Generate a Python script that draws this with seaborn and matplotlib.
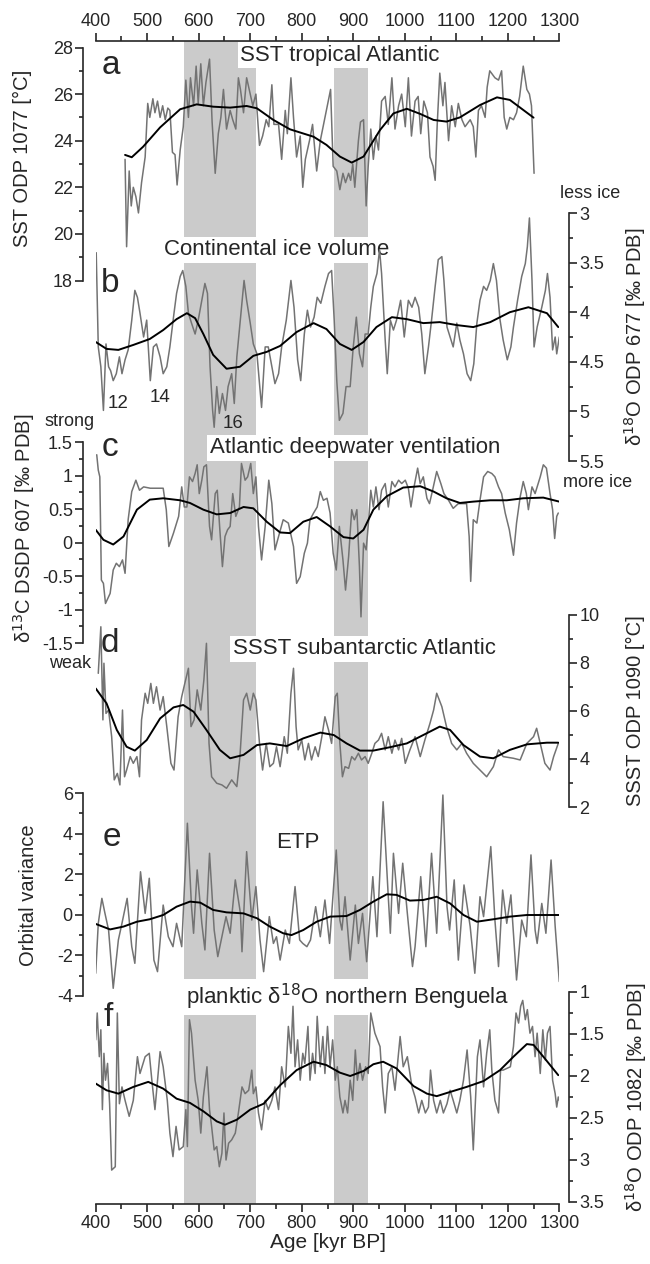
import matplotlib
matplotlib.use("Agg")
import matplotlib.pyplot as plt
from matplotlib.ticker import MultipleLocator, FuncFormatter
import seaborn as sns

# ============================================
# DATA
# ============================================

# glacial bands [kyr BP]
band_start = [572, 862]
band_end = [712, 929]

# a) SST ODP 1077
sst_age = [457, 460, 465, 469, 473, 478, 483, 489, 496, 501, 505, 511, 515, 520, 525, 530, 535, 540, 544, 549,
           554, 558, 564, 570, 575, 580, 584, 590, 595, 599, 604, 609, 614, 621, 626, 632, 638, 643, 648, 654,
           661, 666, 672, 677, 681, 687, 693, 698, 705, 711, 718, 724, 731, 736, 742, 746, 755, 761, 768, 772,
           779, 784, 790, 797, 802, 807, 815, 821, 829, 836, 845, 856, 861, 868, 874, 880, 885, 891, 895, 899,
           903, 910, 914, 920, 925, 929, 934, 939, 944, 949, 955, 962, 968, 975, 981, 988, 994, 1001, 1007, 1013,
           1020, 1026, 1031, 1037, 1044, 1049, 1055, 1059, 1063, 1068, 1074, 1078, 1085, 1091, 1098, 1104, 1111,
           1117, 1127, 1133, 1138, 1143, 1149, 1156, 1160, 1165, 1175, 1182, 1188, 1193, 1198, 1204, 1211, 1217,
           1223, 1230, 1237, 1242, 1246, 1251]
sst_raw = [23.2, 19.45, 22.7, 21.2, 22.0, 21.6, 20.9, 22.2, 23.3, 25.6, 25.0, 25.8, 25.2, 25.7, 25.0, 25.5, 24.9, 25.4,
           25.3, 23.5, 23.4, 22.1, 23.6, 24.6, 26.6, 25.0, 26.7, 25.5, 27.2, 25.6, 27.3, 25.5, 26.5, 27.5, 24.8, 22.6,
           24.3, 25.0, 26.2, 24.5, 25.3, 24.9, 24.5, 26.7, 26.2, 25.2, 26.7, 26.2, 25.5, 26.0, 23.8, 24.2, 24.9, 24.6,
           26.4, 24.7, 24.7, 23.2, 25.3, 24.3, 26.7, 25.0, 23.3, 24.2, 22.0, 23.2, 24.0, 24.7, 22.7, 24.0, 25.0, 26.2,
           22.9, 22.7, 21.9, 22.6, 22.2, 22.6, 22.3, 23.0, 22.0, 24.0, 24.8, 24.9, 21.2, 22.9, 24.5, 23.2, 24.2, 23.6,
           25.7, 25.9, 24.7, 26.7, 24.5, 25.5, 26.0, 24.6, 26.7, 24.2, 25.7, 25.9, 24.3, 25.7, 25.2, 23.3, 22.9, 22.3,
           24.7, 26.9, 25.5, 26.5, 24.0, 25.5, 24.6, 25.6, 24.9, 24.6, 24.9, 24.6, 23.3, 25.3, 25.5, 25.0, 26.3, 27.0,
           26.7, 26.6, 27.0, 25.0, 24.5, 25.0, 24.9, 25.2, 25.9, 27.2, 26.2, 26.0, 25.5, 22.6]
sst_fit_age = [457, 470, 492, 525, 564, 596, 628, 661, 693, 713, 745, 777, 823, 848, 874, 897, 920, 952, 978, 1004,
               1030, 1056, 1081, 1107, 1146, 1179, 1204, 1230, 1250]
sst_fit = [23.39, 23.29, 23.74, 24.57, 25.35, 25.56, 25.46, 25.42, 25.49, 25.39, 24.89, 24.49, 24.17, 23.82, 23.32,
           23.06, 23.32, 24.46, 25.17, 25.37, 25.15, 24.89, 24.82, 25.0, 25.53, 25.86, 25.75, 25.32, 24.99]

# b) benthic d18O ODP 677 (ice volume)
ice_age = [401, 405, 410, 415, 420, 425, 429, 434, 440, 446, 451, 457, 463, 470, 476, 481, 486, 493, 499, 506,
           512, 518, 525, 531, 538, 544, 552, 557, 564, 569, 575, 580, 586, 593, 599, 606, 612, 617, 622, 627,
           630, 635, 640, 646, 652, 657, 664, 669, 674, 682, 688, 693, 700, 706, 713, 722, 729, 735, 742, 748,
           755, 761, 770, 779, 785, 792, 798, 805, 811, 817, 824, 830, 837, 845, 852, 858, 863, 868, 873, 880,
           886, 894, 900, 906, 912, 918, 923, 929, 934, 939, 946, 951, 955, 962, 966, 972, 978, 984, 992, 999,
           1007, 1014, 1020, 1027, 1033, 1039, 1046, 1052, 1059, 1065, 1072, 1076, 1082, 1088, 1094, 1101, 1107,
           1114, 1121, 1128, 1134, 1140, 1146, 1153, 1159, 1166, 1172, 1178, 1185, 1191, 1199, 1206, 1211, 1219,
           1227, 1234, 1238, 1242, 1247, 1251, 1257, 1266, 1273, 1277, 1282, 1287, 1292, 1295, 1300]
ice_raw = [3.40, 4.35, 4.55, 4.99, 4.32, 4.55, 4.59, 4.69, 4.62, 4.45, 4.62, 4.48, 4.38, 4.08, 3.78, 3.85, 4.01, 4.25,
           4.08, 4.69, 4.35, 4.32, 4.45, 4.62, 4.55, 4.35, 4.01, 3.81, 3.64, 3.58, 3.74, 4.01, 4.11, 4.22, 4.08, 3.88,
           3.71, 3.81, 4.55, 4.99, 5.16, 4.75, 5.02, 4.82, 4.99, 4.75, 4.62, 4.92, 4.45, 4.01, 3.68, 3.88, 4.11, 4.32,
           4.42, 4.96, 4.35, 4.35, 4.55, 4.72, 4.62, 4.35, 4.08, 3.68, 3.95, 4.48, 4.69, 4.22, 3.98, 4.15, 4.05, 3.85,
           3.91, 3.74, 3.61, 3.58, 4.08, 4.69, 5.09, 5.02, 4.75, 4.75, 4.35, 4.05, 4.42, 4.55, 4.22, 4.22, 3.95, 3.74,
           3.61, 3.37, 3.61, 4.28, 4.62, 4.08, 4.18, 4.08, 3.88, 4.25, 3.88, 3.95, 3.85, 3.95, 4.22, 4.62, 4.35, 4.08,
           3.74, 3.47, 3.44, 3.68, 4.15, 4.25, 4.35, 4.11, 4.28, 4.42, 4.62, 4.69, 4.52, 4.11, 3.88, 3.74, 3.78, 3.68,
           3.51, 3.68, 4.08, 4.28, 4.48, 4.35, 4.15, 3.88, 3.64, 3.51, 3.34, 3.05, 3.68, 4.35, 4.15, 3.95, 3.78, 3.61,
           3.85, 4.38, 4.25, 4.42, 4.25]
ice_fit_age = [400, 421, 444, 473, 505, 531, 557, 577, 593, 609, 628, 654, 680, 706, 732, 758, 790, 823, 848, 874,
               897, 920, 945, 975, 1004, 1036, 1068, 1101, 1133, 1166, 1204, 1240, 1276, 1298]
ice_fit = [4.30, 4.37, 4.38, 4.33, 4.27, 4.18, 4.07, 4.01, 4.06, 4.22, 4.43, 4.57, 4.55, 4.44, 4.40, 4.34, 4.20, 4.11,
           4.17, 4.32, 4.38, 4.30, 4.15, 4.05, 4.07, 4.11, 4.10, 4.13, 4.15, 4.10, 4.00, 3.95, 4.01, 4.15]
mis_labels = ["12", "14", "16"]

# c) d13C DSDP 607
vent_age = [402, 405, 408, 411, 415, 419, 428, 434, 440, 446, 452, 457, 463, 470, 478, 485, 493, 506, 522, 531,
            537, 542, 551, 561, 567, 572, 577, 582, 588, 593, 597, 601, 606, 610, 615, 621, 625, 632, 636, 641,
            646, 651, 656, 661, 666, 672, 679, 683, 690, 695, 701, 706, 711, 716, 722, 729, 736, 742, 748, 755,
            764, 774, 784, 790, 797, 805, 811, 816, 823, 830, 836, 842, 849, 855, 861, 867, 873, 880, 885, 891,
            897, 902, 907, 912, 915, 920, 925, 930, 934, 939, 944, 950, 955, 962, 968, 975, 981, 988, 994, 1001,
            1007, 1012, 1018, 1025, 1030, 1036, 1043, 1048, 1054, 1062, 1070, 1076, 1085, 1094, 1104, 1114, 1120,
            1125, 1128, 1133, 1140, 1146, 1153, 1161, 1169, 1175, 1182, 1188, 1195, 1203, 1211, 1217, 1224, 1230,
            1236, 1240, 1247, 1253, 1257, 1263, 1269, 1275, 1282, 1287, 1291, 1295, 1298]
vent_raw = [1.31, 1.08, 0.98, -0.56, -0.61, -0.91, -0.76, -0.41, -0.31, -0.36, -0.26, -0.46, 0.34, 0.76, 0.93, 0.78,
            0.83, 0.81, 0.81, 0.81, 0.49, -0.06, 0.14, 0.39, 0.83, 0.53, 0.53, 0.98, 0.91, 1.03, 1.16, 0.73, 0.93,
            1.13, 1.16, 0.24, 0.04, 0.73, 0.78, 0.19, -0.36, 0.09, 0.19, 0.24, 0.73, 0.39, 0.53, 1.18, 0.93, 0.98,
            1.18, 0.73, 0.98, 0.24, -0.26, 0.24, 0.93, 0.58, -0.11, 0.09, 0.34, 0.29, -0.06, -0.61, -0.51, -0.16,
            -0.01, 0.34, 0.44, 0.53, 0.76, 0.63, 0.66, 0.44, -0.16, -0.41, 0.24, -0.26, -0.71, -0.21, 0.49, 0.34,
            0.49, -0.36, -1.11, -0.01, -0.11, 0.34, 0.78, 0.53, 0.83, 0.49, 0.78, 0.88, 0.53, 0.91, 0.83, 0.93, 0.88,
            0.93, 0.81, 0.53, 0.83, 1.11, 0.88, 0.98, 0.66, 0.58, 0.78, 1.06, 0.88, 0.73, 0.63, 0.51, 0.58, 0.58,
            0.58, 0.09, -0.58, 0.34, 0.29, 0.63, 0.98, 1.06, 1.03, 0.98, 0.83, 0.73, 0.44, 0.19, -0.19, 0.29, 0.68,
            0.91, 0.73, 0.49, 0.83, 0.73, 0.83, 0.98, 1.16, 1.11, 0.73, 0.49, 0.06, 0.39, 0.44]
vent_fit_age = [400, 415, 434, 454, 480, 505, 531, 564, 583, 609, 635, 661, 687, 706, 732, 758, 777, 803, 829, 855,
                881, 900, 920, 939, 965, 997, 1030, 1056, 1081, 1107, 1133, 1166, 1198, 1230, 1269, 1300]
vent_fit = [0.19, 0.04, -0.03, 0.09, 0.49, 0.64, 0.66, 0.63, 0.59, 0.49, 0.42, 0.44, 0.53, 0.51, 0.31, 0.15, 0.14,
            0.31, 0.38, 0.24, 0.08, 0.06, 0.19, 0.49, 0.69, 0.82, 0.84, 0.76, 0.66, 0.59, 0.61, 0.63, 0.63, 0.66,
            0.67, 0.61]

# d) SSST ODP 1090
ssst_age = [405, 410, 414, 416, 420, 425, 431, 436, 442, 447, 452, 456, 460, 467, 473, 480, 485, 489, 496, 501,
            507, 512, 518, 525, 531, 538, 546, 552, 560, 567, 573, 580, 585, 591, 597, 604, 610, 615, 620, 625,
            635, 645, 654, 664, 674, 680, 687, 693, 700, 706, 711, 718, 724, 731, 738, 745, 751, 758, 766, 772,
            779, 784, 789, 793, 800, 806, 813, 819, 826, 832, 839, 845, 852, 858, 865, 869, 874, 879, 884, 891,
            897, 903, 910, 916, 923, 929, 936, 942, 949, 955, 962, 968, 975, 981, 988, 994, 1001, 1010, 1020, 1030,
            1039, 1049, 1056, 1062, 1072, 1081, 1091, 1101, 1111, 1120, 1133, 1146, 1159, 1172, 1182, 1191, 1211,
            1224, 1237, 1250, 1256, 1263, 1272, 1282, 1289, 1298]
ssst_raw = [7.57, 9.51, 5.63, 7.99, 5.90, 6.04, 4.93, 3.13, 3.40, 2.92, 6.04, 3.26, 3.54, 4.10, 3.82, 4.10, 3.26,
            5.63, 6.74, 6.32, 7.15, 6.32, 7.01, 6.04, 6.60, 5.35, 3.82, 3.54, 5.76, 6.60, 7.15, 7.78, 5.35, 5.63,
            6.88, 6.04, 7.29, 8.82, 4.65, 3.26, 2.99, 2.92, 2.78, 3.13, 2.85, 4.10, 6.46, 6.74, 6.04, 6.74, 6.46,
            4.65, 3.54, 4.65, 3.68, 3.82, 4.51, 3.68, 4.93, 4.24, 6.74, 7.78, 5.35, 4.38, 4.79, 3.96, 4.65, 3.96,
            4.51, 4.10, 4.93, 5.76, 5.21, 4.65, 6.60, 6.74, 4.65, 3.26, 3.68, 3.61, 4.10, 3.96, 4.24, 3.96, 4.10,
            3.82, 4.24, 4.65, 4.79, 5.07, 4.38, 4.93, 4.24, 4.79, 4.38, 4.86, 3.82, 4.38, 4.93, 4.10, 4.79, 5.49,
            6.04, 6.74, 6.18, 5.35, 4.65, 4.38, 4.65, 4.24, 3.82, 3.54, 3.26, 3.68, 4.38, 4.10, 4.03, 3.96, 4.65,
            4.93, 5.28, 4.65, 3.82, 3.54, 4.10, 4.65]
ssst_fit_age = [400, 421, 441, 460, 476, 499, 525, 551, 570, 590, 615, 641, 661, 687, 713, 738, 771, 803, 836, 862,
                887, 913, 939, 971, 1004, 1036, 1068, 1088, 1114, 1146, 1172, 1204, 1237, 1276, 1298]
ssst_fit = [6.94, 6.32, 5.21, 4.51, 4.35, 4.79, 5.69, 6.15, 6.25, 5.97, 5.21, 4.38, 4.03, 4.17, 4.58, 4.65, 4.54,
            4.86, 5.10, 5.00, 4.65, 4.35, 4.35, 4.49, 4.65, 5.00, 5.35, 5.21, 4.58, 4.10, 4.03, 4.38, 4.61, 4.68,
            4.68]

# e) ETP orbital variance
etp_age = [400, 405, 412, 418, 425, 434, 444, 451, 461, 470, 476, 487, 496, 504, 513, 520, 531, 541, 550, 557,
           567, 578, 586, 590, 597, 606, 612, 621, 630, 637, 645, 653, 661, 671, 681, 684, 693, 703, 711, 719,
           726, 737, 745, 751, 758, 768, 776, 787, 796, 802, 810, 817, 827, 836, 845, 854, 867, 874, 878, 884,
           894, 904, 910, 918, 926, 938, 946, 958, 968, 972, 978, 988, 996, 1005, 1015, 1020, 1031, 1041, 1052,
           1062, 1074, 1082, 1087, 1096, 1104, 1115, 1127, 1136, 1146, 1153, 1167, 1175, 1182, 1190, 1198, 1206,
           1217, 1227, 1236, 1245, 1253, 1257, 1266, 1274, 1284, 1292, 1300]
etp_raw = [-2.88, -0.42, 0.81, 0.07, -0.75, -3.62, -1.24, -0.42, 0.81, -1.57, -2.39, 2.12, 0.07, 1.80, -2.23, -2.80,
           0.48, -1.08, -1.57, -0.42, -1.57, 4.51, 0.40, -0.91, 2.21, -0.42, -1.73, 3.03, -0.75, -2.06, -1.08, -0.09,
           -0.91, 1.72, 0.07, -1.82, 3.11, -0.26, 1.39, -1.24, -2.80, -0.09, -1.41, -1.08, -2.23, -0.75, -1.41, 1.39,
           -1.24, -1.41, -1.57, -1.24, 0.40, -1.08, 0.73, -1.41, 3.19, -0.26, -0.75, 0.89, -2.23, 0.48, -1.41, 0.07,
           -2.31, 1.88, -1.08, 5.57, 0.89, -0.91, 3.03, 0.07, 2.54, 0.07, -2.55, -1.57, 1.88, -1.57, 3.03, -0.91,
           5.90, 0.40, -0.75, 1.72, -2.23, 1.47, -0.58, -2.88, 0.89, -0.09, 3.36, -0.26, -2.55, 1.22, -0.42, 0.98,
           -3.21, -0.26, -1.08, 2.95, -0.75, -1.41, 0.56, -0.91, 2.70, -0.58, -3.29]
etp_fit_age = [400, 428, 454, 480, 505, 531, 557, 583, 603, 628, 654, 687, 713, 738, 764, 780, 803, 829, 855, 887,
               913, 939, 965, 984, 1010, 1036, 1062, 1088, 1114, 1140, 1172, 1204, 1237, 1276, 1300]
etp_fit = [-0.45, -0.72, -0.58, -0.34, -0.22, -0.01, 0.40, 0.65, 0.60, 0.24, 0.12, 0.07, -0.17, -0.58, -0.91, -1.00,
           -0.75, -0.34, -0.09, -0.06, 0.24, 0.65, 1.01, 0.98, 0.70, 0.73, 0.89, 0.56, -0.01, -0.34, -0.22, -0.09,
           -0.01, -0.01, -0.01]

# f) planktic d18O ODP 1082
benq_age = [400, 403, 407, 410, 413, 416, 419, 423, 427, 431, 438, 442, 446, 451, 457, 465, 473, 481, 486, 496,
            504, 509, 515, 525, 531, 539, 544, 550, 556, 562, 570, 575, 578, 582, 586, 593, 599, 604, 609, 616,
            621, 625, 630, 635, 640, 645, 649, 653, 658, 664, 671, 677, 684, 690, 697, 703, 706, 711, 716, 722,
            729, 735, 742, 748, 755, 761, 768, 774, 779, 783, 787, 792, 797, 802, 806, 812, 816, 821, 826, 830,
            836, 841, 845, 850, 855, 860, 865, 869, 874, 880, 884, 889, 894, 899, 904, 908, 913, 918, 924, 929,
            934, 942, 952, 957, 962, 968, 975, 981, 991, 997, 1005, 1014, 1020, 1027, 1033, 1040, 1046, 1050, 1056,
            1062, 1069, 1075, 1082, 1088, 1094, 1101, 1107, 1114, 1121, 1128, 1133, 1141, 1146, 1153, 1159, 1165,
            1169, 1175, 1182, 1186, 1191, 1205, 1211, 1216, 1221, 1225, 1229, 1234, 1238, 1243, 1248, 1253, 1257,
            1263, 1268, 1273, 1277, 1282, 1287, 1292, 1295, 1298, 1300]
benq_raw = [1.57, 1.25, 1.77, 1.45, 2.40, 1.73, 2.05, 1.85, 2.33, 3.12, 3.08, 1.25, 2.33, 2.13, 2.29, 2.48, 2.29,
            1.77, 1.97, 1.77, 1.73, 2.05, 2.40, 1.71, 1.89, 2.29, 2.68, 2.96, 2.60, 2.88, 2.84, 2.40, 2.84, 1.33,
            1.49, 2.05, 2.29, 2.68, 2.25, 1.89, 2.40, 2.60, 2.88, 2.84, 3.08, 2.92, 2.44, 3.00, 2.80, 2.76, 2.68,
            2.44, 2.13, 2.21, 2.17, 1.93, 2.21, 2.13, 2.44, 2.64, 2.29, 2.40, 2.29, 2.13, 2.40, 1.89, 2.13, 1.41,
            1.73, 1.17, 1.89, 1.57, 2.05, 1.73, 1.85, 1.41, 2.05, 1.73, 1.97, 1.29, 1.89, 1.53, 1.97, 1.41, 1.89,
            1.57, 2.05, 1.89, 2.25, 2.44, 2.29, 2.44, 2.05, 2.29, 1.69, 2.05, 1.85, 2.05, 1.89, 1.97, 1.25, 1.49,
            1.65, 2.13, 2.44, 1.97, 1.89, 2.17, 1.53, 1.89, 1.77, 2.13, 2.25, 2.44, 2.29, 2.44, 2.37, 1.93, 2.29,
            2.44, 2.29, 2.44, 2.33, 2.17, 2.29, 2.44, 2.29, 2.05, 1.69, 2.25, 2.88, 1.77, 1.57, 2.13, 1.73, 1.45,
            1.93, 2.29, 2.44, 1.93, 1.93, 1.89, 1.65, 1.25, 1.37, 1.17, 1.10, 1.33, 1.21, 1.49, 1.41, 1.77, 1.49,
            1.97, 1.45, 1.81, 1.49, 1.41, 2.05, 2.21, 2.37, 2.25, 2.29]
benq_fit_age = [400, 421, 444, 473, 502, 531, 557, 583, 609, 635, 651, 674, 700, 726, 758, 790, 823, 848, 874, 894,
                920, 939, 958, 984, 1017, 1043, 1062, 1088, 1120, 1153, 1185, 1211, 1237, 1250, 1269, 1298]
benq_fit = [2.09, 2.17, 2.21, 2.13, 2.07, 2.15, 2.27, 2.32, 2.42, 2.54, 2.58, 2.52, 2.40, 2.33, 2.11, 1.93, 1.83,
            1.87, 1.96, 2.00, 1.94, 1.86, 1.83, 1.91, 2.12, 2.21, 2.24, 2.19, 2.13, 2.06, 1.93, 1.77, 1.62, 1.63,
            1.77, 1.99]

# ============================================
# FIGURE
# ============================================

sns.set_style("ticks")
plt.rcParams["font.family"] = ["Liberation Sans", "DejaVu Sans"]
plt.rcParams["axes.unicode_minus"] = False

W, H = 650, 1264
X0, X1 = 95.7, 559.3          # pixel span of 400..1300 kyr
RAW_C, FIT_C, BAND_C = "#737373", "black", "#cbcbcb"


def frame(x0, y0, x1, y1):
    return [x0 / W, 1 - y1 / H, (x1 - x0) / W, (y1 - y0) / H]


def fxy(x, y):
    return x / W, 1 - y / H


fig = plt.figure(figsize=(6.5, 12.64), dpi=100)

# -------- background: shared age axis + glacial bands --------
bg = fig.add_axes(frame(X0, 41, X1, 1203.5))
bg.set_xlim(400, 1300)
bg.set_ylim(0, 1)
bg.set_yticks([])
bg.spines[["left", "right"]].set_visible(False)
for s in ["top", "bottom"]:
    bg.spines[s].set_linewidth(1.2)
    bg.spines[s].set_zorder(6)
bg.xaxis.set_major_locator(MultipleLocator(100))
bg.xaxis.set_minor_locator(MultipleLocator(50))
bg.tick_params(axis="x", which="both", top=True, labeltop=True, bottom=True, labelbottom=True,
               direction="out", width=1.2, labelsize=13, pad=2)
bg.tick_params(axis="x", which="major", length=6)
bg.tick_params(axis="x", which="minor", length=3.5)
bg.set_xlabel("Age [kyr BP]", fontsize=15, labelpad=1)
for a0, a1 in zip(band_start, band_end):
    bg.axvspan(a0, a1, color=BAND_C, lw=0, zorder=0)

# panel titles (white boxes interrupt the bands)
titles = [("SST tropical Atlantic", 340, 55),
          ("Continental ice volume", 277, 250),
          ("Atlantic deepwater ventilation", 355, 448),
          ("SSST subantarctic Atlantic", 364, 649),
          ("ETP", 298, 842),
          ("planktic δ$^{18}$O northern Benguela", 348, 997)]
for t, x, y in titles:
    bg.text(*fxy(x, y), t, transform=fig.transFigure, ha="center", va="center", fontsize=16,
            zorder=3, bbox=dict(boxstyle="square,pad=0.12", fc="white", ec="none"))


def panel(y_top, y_bot, side, lo, hi, major, minor, invert=False):
    ax = fig.add_axes(frame(X0, y_top, X1, y_bot))
    ax.patch.set_visible(False)
    ax.set_xlim(400, 1300)
    ax.set_ylim((hi, lo) if invert else (lo, hi))
    ax.xaxis.set_visible(False)
    for s in ["top", "bottom", "left", "right"]:
        ax.spines[s].set_visible(s == side)
    ax.spines[side].set_linewidth(1.2)
    ax.spines[side].set_position(("outward", 9 if side == "left" else 7))
    ax.yaxis.set_ticks_position(side)
    ax.yaxis.set_major_locator(MultipleLocator(major))
    ax.yaxis.set_minor_locator(MultipleLocator(minor))
    ax.yaxis.set_major_formatter(FuncFormatter(lambda v, p: f"{v:g}"))
    ax.tick_params(axis="y", which="both", direction="out", width=1.2, labelsize=13, pad=2)
    ax.tick_params(axis="y", which="major", length=5.5)
    ax.tick_params(axis="y", which="minor", length=3)
    return ax


def curves(ax, age, raw, fit_age, fit):
    sns.lineplot(x=age, y=raw, ax=ax, color=RAW_C, lw=1.1, sort=False, estimator=None)
    sns.lineplot(x=fit_age, y=fit, ax=ax, color=FIT_C, lw=1.4, sort=False, estimator=None)
    ax.set_xlim(400, 1300)


ax_a = panel(47.5, 280.5, "left", 18, 28, 2, 1)
curves(ax_a, sst_age, sst_raw, sst_fit_age, sst_fit)
ax_a.set_ylim(18, 28)

ax_b = panel(213, 461, "right", 3, 5.5, 0.5, 0.25, invert=True)
curves(ax_b, ice_age, ice_raw, ice_fit_age, ice_fit)
ax_b.set_ylim(5.5, 3)

ax_c = panel(442, 643, "left", -1.5, 1.5, 0.5, 0.25)
curves(ax_c, vent_age, vent_raw, vent_fit_age, vent_fit)
ax_c.set_ylim(-1.5, 1.5)

ax_d = panel(615, 807, "right", 2, 10, 2, 1)
curves(ax_d, ssst_age, ssst_raw, ssst_fit_age, ssst_fit)
ax_d.set_ylim(2, 10)

ax_e = panel(793, 996, "left", -4, 6, 2, 1)
curves(ax_e, etp_age, etp_raw, etp_fit_age, etp_fit)
ax_e.set_ylim(-4, 6)

ax_f = panel(992, 1202, "right", 1, 3.5, 0.5, 0.25, invert=True)
curves(ax_f, benq_age, benq_raw, benq_fit_age, benq_fit)
ax_f.set_ylim(3.5, 1)

# -------- axis titles --------
ylabels = [("SST ODP 1077 [°C]", 22, 158),
           ("δ$^{18}$O ODP 677 [‰ PDB]", 635, 337),
           ("δ$^{13}$C DSDP 607 [‰ PDB]", 24, 528),
           ("SSST ODP 1090 [°C]", 635, 711),
           ("Orbital variance", 28, 895),
           ("δ$^{18}$O ODP 1082 [‰ PDB]", 636, 1097)]
for t, x, y in ylabels:
    fig.text(*fxy(x, y), t, rotation=90, ha="center", va="center", fontsize=14.5)

# panel letters
for letter, x, y in [("a", 111, 65), ("b", 110, 284), ("c", 110, 447),
                     ("d", 110, 643), ("e", 112, 838), ("f", 108, 1017)]:
    fig.text(*fxy(x, y), letter, ha="center", va="center", fontsize=24)

# end-member annotations
for t, x, y in [("less ice", 590, 193), ("more ice", 598, 483),
                ("strong", 70, 421), ("weak", 70, 664)]:
    fig.text(*fxy(x, y), t, ha="center", va="center", fontsize=13)

# MIS numbers in panel b
for t, x, y in zip(mis_labels, [118, 160, 233], [403, 397, 423]):
    fig.text(*fxy(x, y), t, ha="center", va="center", fontsize=13.5)

plt.savefig("out.png", dpi=100)
